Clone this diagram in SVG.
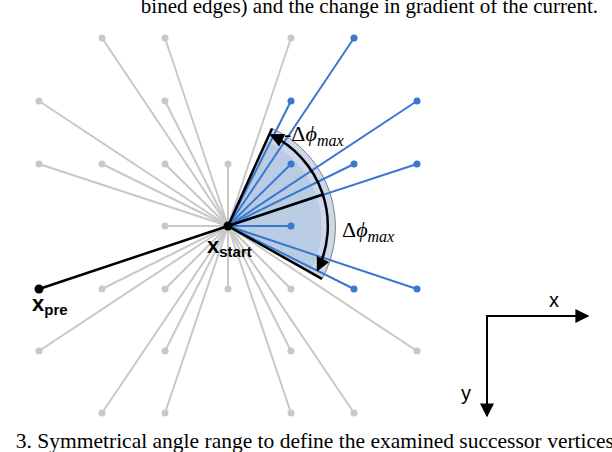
<svg xmlns="http://www.w3.org/2000/svg" width="612" height="452" viewBox="0 0 612 452">
<style>
.g{stroke:#c8c8c8;stroke-width:2}
.gd{fill:#c8c8c8}
.b{stroke:#3a78d0;stroke-width:2}
.bd{fill:#3a78d0}
.k{stroke:#000;stroke-width:2.5;fill:none}
.serif{font-family:"Liberation Serif",serif}
.sans{font-family:"Liberation Sans",Arial,sans-serif}
</style>
<defs>
<marker id="ah2" viewBox="0 0 10 10" refX="9" refY="5" markerWidth="14" markerHeight="14" orient="auto-start-reverse" markerUnits="userSpaceOnUse"><path d="M0,0L10,5L0,10z" fill="#000"/></marker>
</defs>
<text class="serif" x="598" y="13" font-size="21" text-anchor="end">bined edges) and the change in gradient of the current.</text>
<g id="sector">
<path d="M228,226 L272.0,128.4 A108,108 0 0 1 322.0,278.9 Z" fill="#cdd9ea" stroke="#808080" stroke-width="1"/>
<path d="M228,226 L266.4,140.8 A94,94 0 0 1 310.0,271.8 Z" fill="#b9cce4"/>
</g>
<g id="connectors">
<line class="g" x1="228" y1="226" x2="102" y2="38"/><line class="g" x1="228" y1="226" x2="165" y2="38"/>
<line class="g" x1="228" y1="226" x2="291" y2="38"/>
<line class="g" x1="228" y1="226" x2="39" y2="101"/><line class="g" x1="228" y1="226" x2="165" y2="101"/>
<line class="g" x1="228" y1="226" x2="39" y2="164"/><line class="g" x1="228" y1="226" x2="102" y2="164"/><line class="g" x1="228" y1="226" x2="165" y2="164"/><line class="g" x1="228" y1="226" x2="228" y2="164"/>
<line class="g" x1="228" y1="226" x2="165" y2="226"/>
<line class="g" x1="228" y1="226" x2="102" y2="289"/><line class="g" x1="228" y1="226" x2="165" y2="289"/><line class="g" x1="228" y1="226" x2="228" y2="289"/><line class="g" x1="228" y1="226" x2="291" y2="289"/>
<line class="g" x1="228" y1="226" x2="39" y2="351"/><line class="g" x1="228" y1="226" x2="165" y2="351"/><line class="g" x1="228" y1="226" x2="291" y2="351"/><line class="g" x1="228" y1="226" x2="417" y2="351"/>
<line class="g" x1="228" y1="226" x2="102" y2="413"/><line class="g" x1="228" y1="226" x2="165" y2="413"/><line class="g" x1="228" y1="226" x2="291" y2="413"/><line class="g" x1="228" y1="226" x2="354" y2="413"/>
<line class="b" x1="228" y1="226" x2="354" y2="38"/><line class="b" x1="228" y1="226" x2="291" y2="101"/><line class="b" x1="228" y1="226" x2="417" y2="101"/>
<line class="b" x1="228" y1="226" x2="291" y2="164"/><line class="b" x1="228" y1="226" x2="354" y2="164"/><line class="b" x1="228" y1="226" x2="417" y2="164"/>
<line class="b" x1="228" y1="226" x2="291" y2="226"/>
<line class="b" x1="228" y1="226" x2="354" y2="289"/><line class="b" x1="228" y1="226" x2="417" y2="289"/>
<line class="k" x1="39" y1="289" x2="228" y2="226"/>
<line class="k" x1="228" y1="226" x2="322" y2="194.7"/>
<line class="k" x1="228" y1="226" x2="272" y2="128.4"/>
<line class="k" x1="228" y1="226" x2="322" y2="278.9"/>
<path class="k" d="M317.5,270.3 A101,101 0 0 0 270.8,134.9" marker-start="url(#ah2)" marker-end="url(#ah2)" stroke-width="2"/>
</g>
<g id="nodes">
<g class="gd"><circle cx="102" cy="38" r="3.5"/><circle cx="165" cy="38" r="3.5"/><circle cx="291" cy="38" r="3.5"/>
<circle cx="39" cy="101" r="3.5"/><circle cx="165" cy="101" r="3.5"/>
<circle cx="39" cy="164" r="3.5"/><circle cx="102" cy="164" r="3.5"/><circle cx="165" cy="164" r="3.5"/><circle cx="228" cy="164" r="3.5"/>
<circle cx="165" cy="226" r="3.5"/>
<circle cx="102" cy="289" r="3.5"/><circle cx="165" cy="289" r="3.5"/><circle cx="228" cy="289" r="3.5"/><circle cx="291" cy="289" r="3.5"/>
<circle cx="39" cy="351" r="3.5"/><circle cx="165" cy="351" r="3.5"/><circle cx="291" cy="351" r="3.5"/><circle cx="417" cy="351" r="3.5"/>
<circle cx="102" cy="413" r="3.5"/><circle cx="165" cy="413" r="3.5"/><circle cx="291" cy="413" r="3.5"/><circle cx="354" cy="413" r="3.5"/></g>
<g class="bd"><circle cx="354" cy="38" r="3.5"/><circle cx="291" cy="101" r="3.5"/><circle cx="417" cy="101" r="3.5"/>
<circle cx="291" cy="164" r="3.5"/><circle cx="354" cy="164" r="3.5"/><circle cx="417" cy="164" r="3.5"/>
<circle cx="291" cy="226" r="3.5"/><circle cx="354" cy="289" r="3.5"/><circle cx="417" cy="289" r="3.5"/></g>
<g id="xpre"><circle cx="39" cy="289" r="4.5"/><text class="sans" x="32" y="311" font-size="22" font-weight="bold">x<tspan font-size="15" dy="4">pre</tspan></text></g>
<g id="xstart"><circle cx="228" cy="226" r="4.5"/><text class="sans" x="207" y="253" font-size="22" font-weight="bold">x<tspan font-size="15" dy="4">start</tspan></text></g>
</g>
<g id="labels" class="serif">
<text x="284" y="141" font-size="22">-Δ<tspan font-style="italic">ϕ</tspan><tspan font-size="16" font-style="italic" dy="5">max</tspan></text>
<text x="342" y="237" font-size="22">Δ<tspan font-style="italic">ϕ</tspan><tspan font-size="16" font-style="italic" dy="5">max</tspan></text>
</g>
<g id="axes">
<line x1="487" y1="316" x2="588" y2="316" stroke="#000" stroke-width="2" marker-end="url(#ah2)"/>
<line x1="487" y1="315" x2="487" y2="416" stroke="#000" stroke-width="2" marker-end="url(#ah2)"/>
<text class="sans" x="549" y="307" font-size="20">x</text>
<text class="sans" x="461" y="400" font-size="20">y</text>
</g>
<text class="serif" x="614" y="448" font-size="21.5" text-anchor="end">3. Symmetrical angle range to define the examined successor vertices</text>
</svg>
